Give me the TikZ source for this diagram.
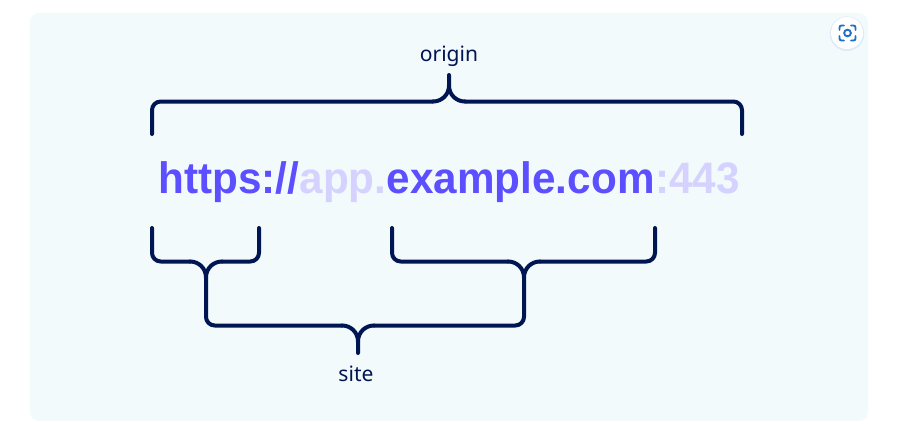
\documentclass[tikz,border=0pt]{standalone}
\usepackage{fontspec}
\setmainfont{Liberation Sans}
\newfontfamily\labelfont{Noto Sans}
\newfontfamily\urlfont[FakeStretch=0.96]{Liberation Sans}
\usepackage{tikz}
\usetikzlibrary{positioning, shadows}
\definecolor{panelbg}{HTML}{F2FAFC}
\definecolor{bracecol}{HTML}{001652}
\definecolor{urlstrong}{HTML}{5B4FFF}
\definecolor{urlfaint}{HTML}{D6D2FF}
\definecolor{iconblue}{HTML}{1F6FC4}
\tikzstyle{urlpart} = [inner sep=0pt, anchor=base west, font=\urlfont\bfseries\fontsize{33}{36}\selectfont]
\tikzstyle{strong} = [urlpart, text=urlstrong]
\tikzstyle{faint} = [urlpart, text=urlfaint]
\tikzstyle{label} = [inner sep=0pt, text=bracecol, font=\labelfont\fontsize{15.8}{18}\selectfont]
\tikzstyle{brace} = [draw=bracecol, line width=3pt, line cap=round, line join=round]
\tikzstyle{corner} = [brace, rounded corners=6.5pt]
\tikzstyle{iconline} = [draw=iconblue, line width=1.4pt, line cap=round, rounded corners=1.5pt]

\begin{document}
\begin{tikzpicture}[x=0.75pt, y=-0.75pt]
    \useasboundingbox (0,0) rectangle (913,436);
    \path [fill=panelbg, rounded corners=7pt] (30,13) rectangle (868,421);

    % Text.
    \node (scheme) [strong] at (158,193.5) {https://};
    \node (sub) [faint, base right=0pt of scheme] {app.};
    \node (domain) [strong, base right=0pt of sub] {example.com};
    \node (port) [faint, base right=0pt of domain] {:443};
    \node (origin) [label] at (449,56) {origin};
    \node (site) [label] at (356,374) {site};

    % Brace ends.
    \coordinate (origin l) at (152,134);
    \coordinate (origin r) at (742,134);
    \coordinate (origin tip) at (449,75);
    \coordinate (scheme l) at (152,228);
    \coordinate (scheme r) at (259,228);
    \coordinate (domain l) at (392,228);
    \coordinate (domain r) at (655,228);
    \coordinate (site tip) at (358,353);

    % Braces.
    \draw [corner] (origin l) -- (152,101.5) -- (433,101.5);
    \draw [corner] (origin r) -- (742,101.5) -- (465,101.5);
    \draw [brace] (433,101.5) .. controls (442,101.5) and (449,94.5) .. (449,85.5) -- (origin tip);
    \draw [brace] (465,101.5) .. controls (456,101.5) and (449,94.5) .. (449,85.5);

    \foreach \a/\m in {scheme/206, domain/524} {%
        \draw [corner] (\a\space l) -- (\a\space l |- 0,261.5) -- (\m-16,261.5);
        \draw [corner] (\a\space r) -- (\a\space r |- 0,261.5) -- (\m+16,261.5);
        \draw [brace] (\m-16,261.5) .. controls (\m-7,261.5) and (\m,268.5) .. (\m,277.5);
        \draw [brace] (\m+16,261.5) .. controls (\m+7,261.5) and (\m,268.5) .. (\m,277.5);
    }

    \draw [corner] (206,277.5) -- (206,325.5) -- (342,325.5);
    \draw [corner] (524,277.5) -- (524,325.5) -- (374,325.5);
    \draw [brace] (342,325.5) .. controls (351,325.5) and (358,332.5) .. (358,341.5) -- (site tip);
    \draw [brace] (374,325.5) .. controls (365,325.5) and (358,332.5) .. (358,341.5);

    % Zoom button.
    \node (button) [circle, fill=white, minimum size=24pt, inner sep=0pt, drop shadow={shadow xshift=0pt, shadow yshift=-0.5pt, shadow scale=1.08, opacity=0.1, fill=iconblue}] at (847,33) {};
    \draw [iconline] (839.5,30) -- (839.5,25.5) -- (844,25.5);
    \draw [iconline] (851,25.5) -- (855.5,25.5) -- (855.5,30);
    \draw [iconline] (855.5,36) -- (855.5,40.5) -- (851,40.5);
    \draw [iconline] (844,40.5) -- (839.5,40.5) -- (839.5,36);
    \node (lens) [circle, draw=iconblue, line width=1.4pt, minimum size=5pt, inner sep=0pt] at (847.5,33) {};
\end{tikzpicture}
\end{document}
